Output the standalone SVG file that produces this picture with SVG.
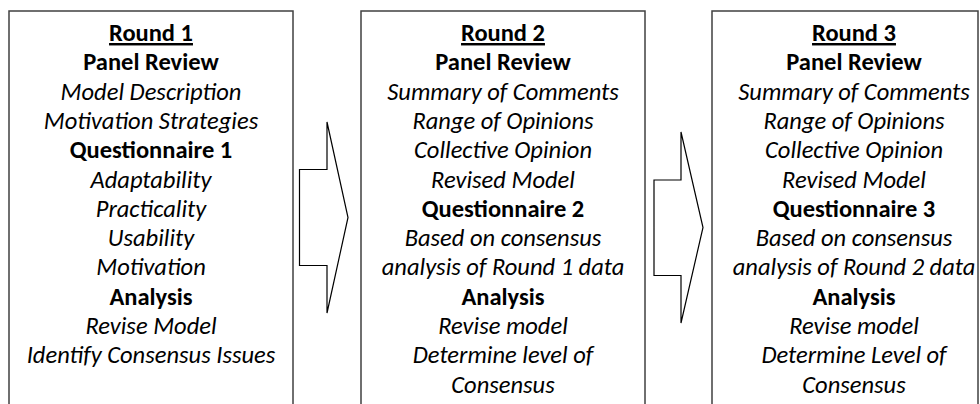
<svg xmlns="http://www.w3.org/2000/svg" width="980" height="404" viewBox="0 0 980 404">
<style>
.box{fill:#fff;stroke:#404040;stroke-width:1.5}
.arrow{fill:#fff;stroke:#000;stroke-width:1.2;stroke-linejoin:miter}
text{font-family:Carlito,Calibri,Lato,"Open Sans",sans-serif;font-size:24.5px;text-anchor:middle;fill:#000}
.b{font-weight:bold}
.i{font-style:italic}
.u{font-weight:bold;text-decoration:underline}
</style>
<rect width="980" height="404" fill="#fff"/>
<g id="connectors">
<polygon class="arrow" points="299.5,169.5 327,169.5 327,122 348,217.5 327,313 327,265.5 299.5,265.5"/>
<polygon class="arrow" points="654,180 681,180 681,132 703,227.5 681,323 681,275.5 654,275.5"/>
</g>
<g id="round1">
<rect class="box" x="9" y="11" width="284" height="420"/>
<text x="151" y="41" class="u">Round 1</text>
<text x="151" y="70.3" class="b">Panel Review</text>
<text x="151" y="99.6" class="i">Model Description</text>
<text x="151" y="128.9" class="i">Motivation Strategies</text>
<text x="151" y="158.2" class="b">Questionnaire 1</text>
<text x="151" y="187.5" class="i">Adaptability</text>
<text x="151" y="216.8" class="i">Practicality</text>
<text x="151" y="246.1" class="i">Usability</text>
<text x="151" y="275.4" class="i">Motivation</text>
<text x="151" y="304.7" class="b">Analysis</text>
<text x="151" y="334" class="i">Revise Model</text>
<text x="151" y="363.3" class="i">Identify Consensus Issues</text>
</g>
<g id="round2">
<rect class="box" x="361" y="11" width="284" height="420"/>
<text x="503" y="41" class="u">Round 2</text>
<text x="503" y="70.3" class="b">Panel Review</text>
<text x="503" y="99.6" class="i">Summary of Comments</text>
<text x="503" y="128.9" class="i">Range of Opinions</text>
<text x="503" y="158.2" class="i">Collective Opinion</text>
<text x="503" y="187.5" class="i">Revised Model</text>
<text x="503" y="216.8" class="b">Questionnaire 2</text>
<text x="503" y="246.1" class="i">Based on consensus</text>
<text x="503" y="275.4" class="i">analysis of Round 1 data</text>
<text x="503" y="304.7" class="b">Analysis</text>
<text x="503" y="334" class="i">Revise model</text>
<text x="503" y="363.3" class="i">Determine level of</text>
<text x="503" y="392.6" class="i">Consensus</text>
</g>
<g id="round3">
<rect class="box" x="712" y="11" width="266" height="420"/>
<text x="854" y="41" class="u">Round 3</text>
<text x="854" y="70.3" class="b">Panel Review</text>
<text x="854" y="99.6" class="i">Summary of Comments</text>
<text x="854" y="128.9" class="i">Range of Opinions</text>
<text x="854" y="158.2" class="i">Collective Opinion</text>
<text x="854" y="187.5" class="i">Revised Model</text>
<text x="854" y="216.8" class="b">Questionnaire 3</text>
<text x="854" y="246.1" class="i">Based on consensus</text>
<text x="854" y="275.4" class="i">analysis of Round 2 data</text>
<text x="854" y="304.7" class="b">Analysis</text>
<text x="854" y="334" class="i">Revise model</text>
<text x="854" y="363.3" class="i">Determine Level of</text>
<text x="854" y="392.6" class="i">Consensus</text>
</g>
</svg>
